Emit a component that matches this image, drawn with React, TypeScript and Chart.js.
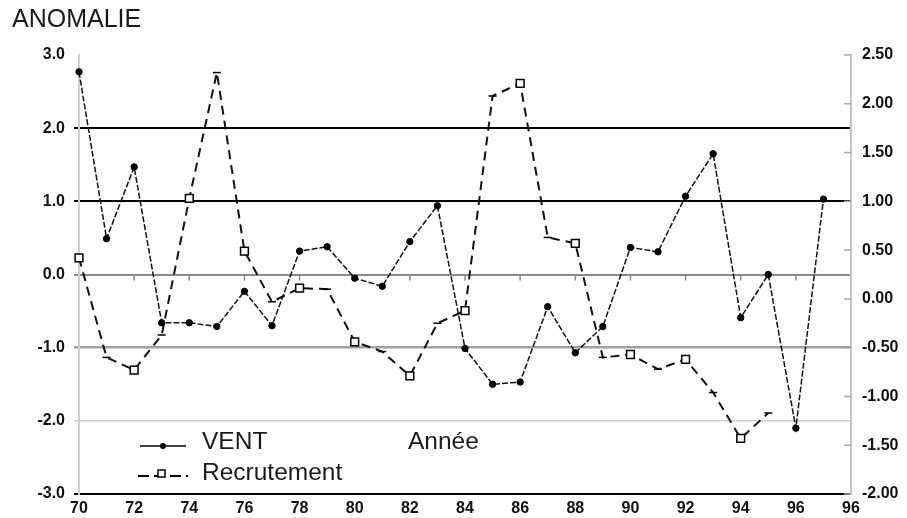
import React, { useEffect, useRef } from 'react';
import { Chart, registerables } from 'chart.js';

Chart.register(...registerables);

const FONT = '"Liberation Sans", Arial, sans-serif';

// ---- data ----
const years = [70, 71, 72, 73, 74, 75, 76, 77, 78, 79, 80, 81, 82, 83, 84, 85, 86, 87, 88, 89, 90, 91, 92, 93, 94, 95, 96, 97];
const ventValues = [2.77, 0.49, 1.47, -0.66, -0.66, -0.71, -0.23, -0.7, 0.32, 0.38, -0.05, -0.16, 0.45, 0.94, -1.01, -1.5, -1.47, -0.44, -1.07, -0.71, 0.37, 0.31, 1.07, 1.65, -0.59, 0.0, -2.1, 1.03];
const recrutementYears = [70, 71, 72, 73, 74, 75, 76, 77, 78, 79, 80, 81, 82, 83, 84, 85, 86, 87, 88, 89, 90, 91, 92, 93, 94, 95];
const recrutementValues = [0.42, -0.6, -0.73, -0.37, 1.03, 2.32, 0.49, -0.03, 0.11, 0.1, -0.44, -0.54, -0.79, -0.25, -0.12, 2.08, 2.21, 0.63, 0.57, -0.6, -0.57, -0.72, -0.62, -0.96, -1.43, -1.17];

const xTickYears = [70, 72, 74, 76, 78, 80, 82, 84, 86, 88, 90, 92, 94, 96, 98];
const xTickLabels = ['70', '72', '74', '76', '78', '80', '82', '84', '86', '88', '90', '92', '94', '96', '96'];
const leftTickValues = [-3, -2, -1, 0, 1, 2, 3];
const rightTickValues = [-2, -1.5, -1, -0.5, 0, 0.5, 1, 1.5, 2, 2.5];

const titleText = 'ANOMALIE';
const xAxisText = 'Année';
const seriesNames = ['VENT', 'Recrutement'];

function leftGridColor(v: number): string {
  if (v === 2 || v === 1 || v === -3) return '#000000';
  if (v === 0) return '#8a8a8a';
  if (v === -1) return '#a0a0a0';
  if (v === -2) return '#d0d0d0';
  return 'rgba(0,0,0,0)';
}
function leftGridWidth(v: number): number {
  if (v === -2) return 1.5;
  if (v === -1) return 2.5;
  return 2;
}

const decor = {
  id: 'decor',
  beforeDatasetsDraw(chart: any) {
    const { ctx, chartArea, scales } = chart;
    const x = scales.x;
    const y = scales.y;
    const y1 = scales.y1;
    ctx.save();
    // small ticks under zero line
    ctx.strokeStyle = '#8a8a8a';
    ctx.lineWidth = 1.5;
    const y0 = y.getPixelForValue(0);
    xTickYears.forEach((v) => {
      if (v === 70 || v === 98) return;
      const px = x.getPixelForValue(v);
      ctx.beginPath();
      ctx.moveTo(px, y0);
      ctx.lineTo(px, y0 + 6);
      ctx.stroke();
    });
    // right axis inward ticks
    ctx.strokeStyle = '#a8a8a8';
    rightTickValues.forEach((v) => {
      const py = y1.getPixelForValue(v);
      ctx.beginPath();
      ctx.moveTo(chartArea.right - 7, py);
      ctx.lineTo(chartArea.right, py);
      ctx.stroke();
    });
    ctx.restore();
  },
  afterDraw(chart: any) {
    const { ctx, chartArea } = chart;
    ctx.save();
    ctx.fillStyle = '#1a1a1a';
    ctx.textBaseline = 'middle';
    ctx.textAlign = 'left';
    // title
    ctx.font = `25px ${FONT}`;
    ctx.fillText(titleText, 12, 20);

    const L = chartArea.left;
    const B = chartArea.bottom;
    // legend line 1: VENT
    const l1 = B - 48;
    ctx.strokeStyle = '#000';
    ctx.lineWidth = 1.5;
    ctx.setLineDash([]);
    ctx.beginPath();
    ctx.moveTo(L + 61, l1);
    ctx.lineTo(L + 107, l1);
    ctx.stroke();
    ctx.beginPath();
    ctx.arc(L + 84, l1, 3, 0, Math.PI * 2);
    ctx.fillStyle = '#000';
    ctx.fill();
    ctx.fillStyle = '#1a1a1a';
    ctx.font = `24.5px ${FONT}`;
    ctx.fillText(seriesNames[0], L + 123, l1 - 4);
    ctx.fillText(xAxisText, L + 329, l1 - 4);

    // legend line 2: Recrutement
    const l2 = B - 18;
    ctx.lineWidth = 2;
    ctx.setLineDash([11, 5]);
    ctx.beginPath();
    ctx.moveTo(L + 59, l2);
    ctx.lineTo(L + 109, l2);
    ctx.stroke();
    ctx.setLineDash([]);
    ctx.fillStyle = '#fff';
    ctx.lineWidth = 1.5;
    ctx.fillRect(L + 79, l2 - 6, 7, 7);
    ctx.strokeRect(L + 79, l2 - 6, 7, 7);
    ctx.fillStyle = '#1a1a1a';
    ctx.fillText(seriesNames[1], L + 123, l2 - 3);
    ctx.restore();
  },
};

export default function App() {
  const ref = useRef<HTMLCanvasElement | null>(null);

  useEffect(() => {
    if (!ref.current) return;
    const ventData = years.map((yr, i) => ({ x: yr, y: ventValues[i] }));
    const recData = recrutementYears.map((yr, i) => ({ x: yr, y: recrutementValues[i] }));

    const chart = new Chart(ref.current, {
      type: 'line',
      data: {
        datasets: [
          {
            label: seriesNames[0],
            data: ventData,
            yAxisID: 'y',
            borderColor: '#111',
            borderWidth: 1.5,
            borderDash: [6, 2],
            pointStyle: 'circle',
            pointRadius: 3.2,
            pointBackgroundColor: '#000',
            pointBorderColor: '#000',
            pointBorderWidth: 1,
            tension: 0,
            clip: false as any,
          },
          {
            label: seriesNames[1],
            data: recData,
            yAxisID: 'y1',
            borderColor: '#111',
            borderWidth: 2,
            borderDash: [9, 6],
            pointStyle: recrutementYears.map((yr) => (yr % 2 === 0 ? 'rect' : 'line')) as any,
            pointRadius: recrutementYears.map((yr) => (yr % 2 === 0 ? 5.5 : 4)),
            pointBackgroundColor: '#fff',
            pointBorderColor: '#000',
            pointBorderWidth: 1.5,
            tension: 0,
            clip: false as any,
          },
        ],
      },
      options: {
        animation: false,
        responsive: false,
        maintainAspectRatio: false,
        layout: { padding: { top: 55, left: 0, right: 0, bottom: 0 } },
        plugins: {
          legend: { display: false },
          title: { display: false },
          tooltip: { enabled: false },
        },
        scales: {
          x: {
            type: 'linear',
            min: 70,
            max: 98,
            afterFit: (s: any) => {
              s.height = 24;
            },
            afterBuildTicks: (s: any) => {
              s.ticks = xTickYears.map((v) => ({ value: v }));
            },
            grid: { display: false, drawTicks: false },
            border: { display: true, color: '#000', width: 2 },
            ticks: {
              padding: 5,
              maxRotation: 0,
              autoSkip: false,
              color: '#111',
              font: { family: FONT, size: 16, weight: 'bold' },
              callback: (v: any) => {
                const i = xTickYears.indexOf(Number(v));
                return i >= 0 ? xTickLabels[i] : '';
              },
            },
          },
          y: {
            type: 'linear',
            position: 'left',
            min: -3,
            max: 3,
            afterFit: (s: any) => {
              s.width = 79;
            },
            afterBuildTicks: (s: any) => {
              s.ticks = leftTickValues.map((v) => ({ value: v }));
            },
            grid: {
              color: (c: any) => leftGridColor(c.tick.value),
              lineWidth: (c: any) => leftGridWidth(c.tick.value),
              drawTicks: true,
              tickLength: 5,
            },
            border: { display: true, color: '#cfcfcf', width: 2 },
            ticks: {
              padding: 9,
              color: '#111',
              font: { family: FONT, size: 16, weight: 'bold' },
              callback: (v: any) => Number(v).toFixed(1),
            },
          },
          y1: {
            type: 'linear',
            position: 'right',
            min: -2,
            max: 2.5,
            afterFit: (s: any) => {
              s.width = 56;
            },
            afterBuildTicks: (s: any) => {
              s.ticks = rightTickValues.map((v) => ({ value: v }));
            },
            grid: { drawOnChartArea: false, drawTicks: false },
            border: { display: true, color: '#c4c4c4', width: 2 },
            ticks: {
              padding: 11,
              color: '#111',
              font: { family: FONT, size: 16, weight: 'bold' },
              callback: (v: any) => Number(v).toFixed(2),
            },
          },
        },
      },
      plugins: [decor],
    });

    return () => chart.destroy();
  }, []);

  return (
    <div style={{ position: 'fixed', left: 0, top: 0, width: 907, height: 518, background: '#fff' }}>
      <canvas ref={ref} width={907} height={518} style={{ width: 907, height: 518, display: 'block' }} />
    </div>
  );
}
